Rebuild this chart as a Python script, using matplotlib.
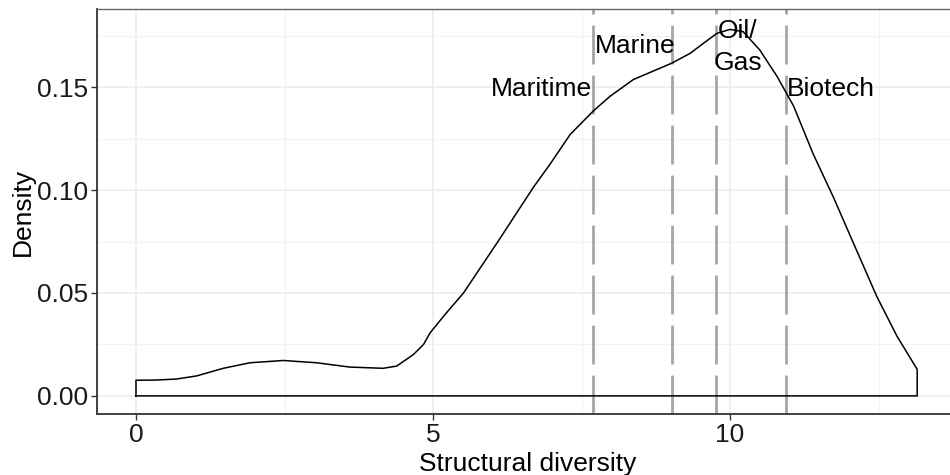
import matplotlib
matplotlib.use("Agg")
import matplotlib.pyplot as plt
import numpy as np

plt.rcParams["font.family"] = ["Liberation Sans", "DejaVu Sans"]

# density curve
div_x = [0.0, 0.35, 0.685, 1.02, 1.47, 1.92, 2.48, 3.04, 3.60, 4.16, 4.39, 4.67,
         4.84, 4.95, 5.2, 5.51, 6.07, 6.69, 6.97, 7.31, 7.70, 7.98, 8.37, 9.02,
         9.33, 9.55, 9.78, 10.0, 10.22, 10.5, 10.79, 11.07, 11.40, 11.74, 12.08,
         12.47, 12.81, 13.15]
dens = [0.0076, 0.0077, 0.0082, 0.0097, 0.0134, 0.0161, 0.0172, 0.0161, 0.0140,
        0.0134, 0.0145, 0.0201, 0.0250, 0.0306, 0.0395, 0.0499, 0.0740, 0.1014,
        0.1126, 0.1271, 0.1385, 0.1456, 0.1537, 0.1617, 0.1665, 0.1713, 0.1762,
        0.1781, 0.1770, 0.1681, 0.1553, 0.1408, 0.1175, 0.0965, 0.0740, 0.0483,
        0.0290, 0.0129]

# sector means
sectors = ["Maritime", "Marine", "Oil/\nGas", "Biotech"]
sector_x = [7.70, 9.02, 9.76, 10.94]

fig = plt.figure(figsize=(9.5, 4.75), dpi=100)
ax = fig.add_axes([0.102, 0.128, 0.906, 0.853])

xs = np.concatenate([[div_x[0]], div_x, [div_x[-1], div_x[0]]])
ys = np.concatenate([[0], dens, [0, 0]])
ax.plot(xs, ys, color="black", lw=1.1, zorder=3)

for sx in sector_x:
    ax.axvline(sx, color="#a6a6a6", lw=2, dashes=(14, 4), zorder=2)

ax.text(7.68, 0.149, sectors[0], ha="right", va="center", fontsize=19, zorder=4)
ax.text(8.41, 0.170, sectors[1], ha="center", va="center", fontsize=19, zorder=4)
ax.text(10.13, 0.1695, sectors[2], ha="center", va="center", fontsize=19,
        linespacing=1.4, zorder=4)
ax.text(10.96, 0.149, sectors[3], ha="left", va="center", fontsize=19, zorder=4)

ax.set_xlim(-0.658, 13.83)
ax.set_ylim(-0.0089, 0.188)
ax.set_xticks([0, 5, 10])
ax.set_yticks([0, 0.05, 0.10, 0.15])
ax.set_yticklabels(["0.00", "0.05", "0.10", "0.15"])
ax.set_xticks([2.5, 7.5, 12.5], minor=True)
ax.set_yticks([0.025, 0.075, 0.125, 0.175], minor=True)
ax.grid(which="major", color="#ebebeb", lw=1.1, zorder=0)
ax.grid(which="minor", color="#f2f2f2", lw=0.8, zorder=0)
ax.set_axisbelow(True)
ax.tick_params(which="major", labelsize=19, length=4, width=1, color="#333333",
               labelcolor="#1a1a1a", pad=2)
ax.tick_params(which="minor", length=0)

ax.set_xlabel("Structural diversity", fontsize=19, labelpad=4)
ax.set_ylabel("Density", fontsize=19, labelpad=2)

for side in ["left", "bottom"]:
    ax.spines[side].set_color("#333333")
    ax.spines[side].set_linewidth(1.3)
ax.spines["top"].set_color("#666666")
ax.spines["top"].set_linewidth(1.0)
ax.spines["right"].set_visible(False)

fig.savefig("out.png", dpi=100)
